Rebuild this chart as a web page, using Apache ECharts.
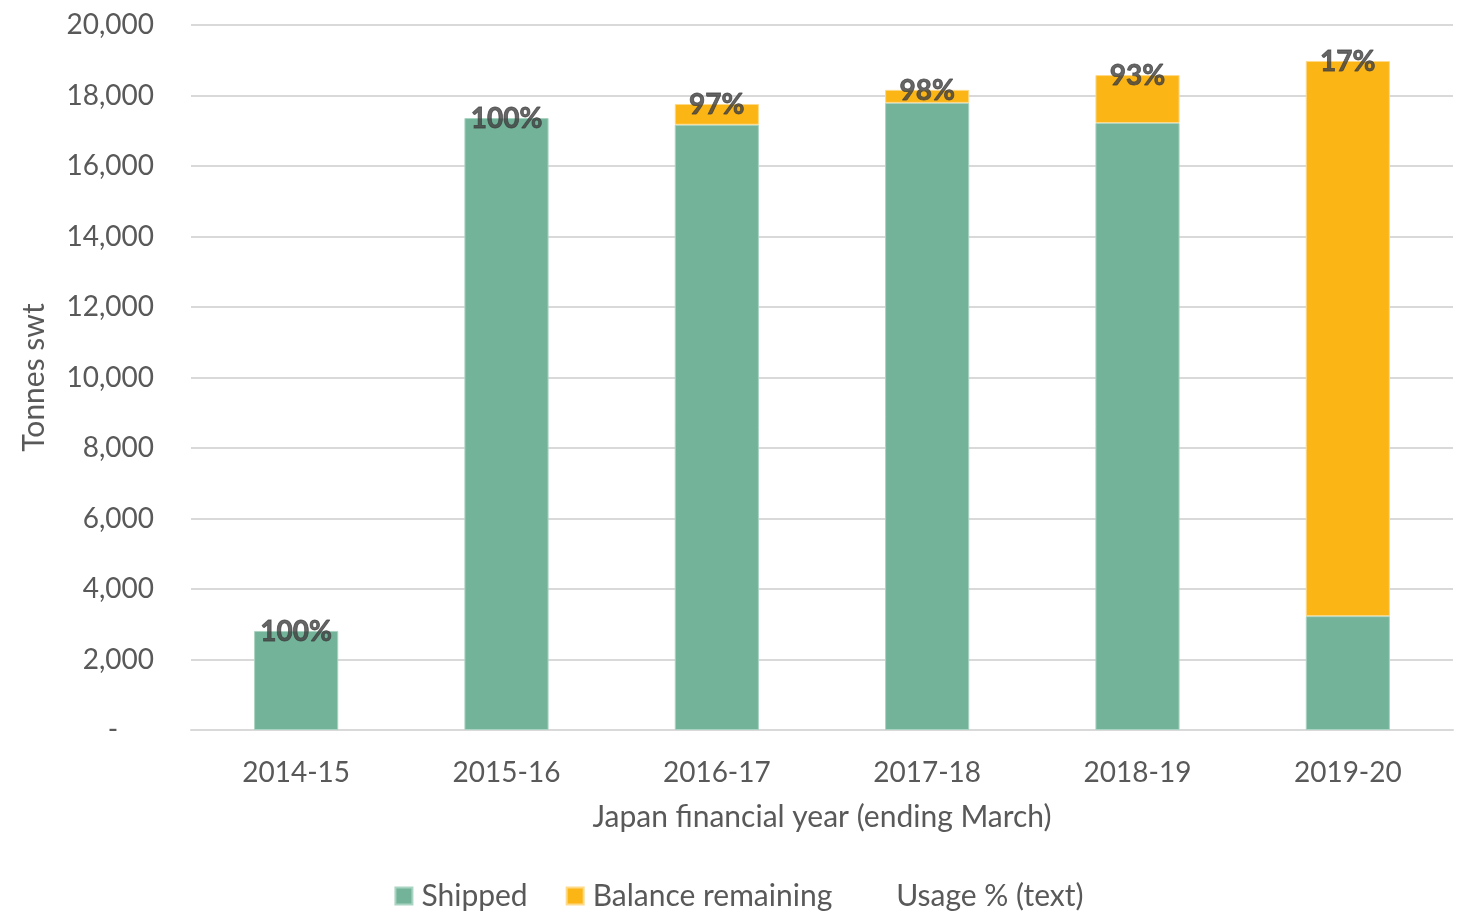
<!DOCTYPE html>
<html>
<head>
<meta charset="utf-8">
<script src="https://cdn.jsdelivr.net/npm/echarts@6/dist/echarts.min.js"></script>
<style>
html, body { margin: 0; padding: 0; background: #fff; }
#chart1 { width: 1478px; height: 922px; }
</style>
</head>
<body>
<div id="chart1"></div>
<script>
var years = ['2014-15', '2015-16', '2016-17', '2017-18', '2018-19', '2019-20'];
var shipped = [2810, 17360, 17170, 17790, 17220, 3230];
var balance = [0, 0, 590, 370, 1360, 15750];
var usage = ['100%', '100%', '97%', '98%', '93%', '17%'];

var totals = shipped.map(function (v, i) { return v + balance[i]; });
// zero balances are not drawn at all (no border sliver)
var balanceBars = balance.map(function (v) { return v > 0 ? v : '-'; });

var chart1 = echarts.init(document.getElementById('chart1'));
var font = 'Lato';

var option = {
	backgroundColor: '#ffffff',
	textStyle: { fontFamily: font, color: '#595959' },
	animation: false,
	grid: { left: 191, right: 25, top: 25, bottom: 192 },
	legend: {
		bottom: 6,
		left: 'center',
		itemWidth: 17,
		itemHeight: 17,
		itemGap: 38,
		textStyle: { fontFamily: font, fontSize: 30, color: '#595959', padding: [0, 0, 0, 4] },
		data: [
			{ name: 'Shipped', icon: 'rect' },
			{ name: 'Balance remaining', icon: 'rect' },
			{ name: 'Usage % (text)', icon: 'rect', itemStyle: { opacity: 0 } }
		]
	},
	xAxis: {
		type: 'category',
		data: years,
		name: 'Japan financial year (ending March)',
		nameLocation: 'middle',
		nameGap: 72,
		nameTextStyle: { fontFamily: font, fontSize: 30, color: '#595959' },
		axisLine: { lineStyle: { color: '#d9d9d9', width: 2 } },
		axisTick: { show: false },
		axisLabel: { fontFamily: font, fontSize: 28, color: '#595959', margin: 29 }
	},
	yAxis: {
		type: 'value',
		min: 0,
		max: 20000,
		interval: 2000,
		name: 'Tonnes swt',
		nameLocation: 'middle',
		nameGap: 142,
		nameTextStyle: { fontFamily: font, fontSize: 30, color: '#595959' },
		axisLine: { show: false },
		axisTick: { show: false },
		splitLine: { lineStyle: { color: '#d9d9d9', width: 2 } },
		axisLabel: {
			fontFamily: font,
			fontSize: 28,
			color: '#595959',
			margin: 37,
			formatter: function (v) {
				return v === 0 ? '-     ' : v.toLocaleString('en-US');
			}
		}
	},
	series: [{
		name: 'Shipped',
		type: 'bar',
		stack: 'total',
		data: shipped,
		barCategoryGap: '60%',
		itemStyle: { color: '#72b39a', borderColor: '#a9d3c2', borderWidth: 1 }
	}, {
		name: 'Balance remaining',
		type: 'bar',
		stack: 'total',
		data: balanceBars,
		itemStyle: { color: '#fbb515', borderColor: '#fdd98a', borderWidth: 1 }
	}, {
		name: 'Usage % (text)',
		type: 'scatter',
		data: totals,
		symbolSize: 1,
		itemStyle: { color: 'rgba(0,0,0,0)' },
		label: {
			show: true,
			position: 'inside',
			offset: [0, 1],
			fontFamily: font,
			fontSize: 28,
			fontWeight: 'bold',
			color: '#404040',
			textBorderColor: '#404040',
			textBorderWidth: 0.8,
			formatter: function (p) {
				return usage[p.dataIndex];
			}
		},
		z: 5
	}]
};

chart1.setOption(option);
</script>
</body>
</html>
